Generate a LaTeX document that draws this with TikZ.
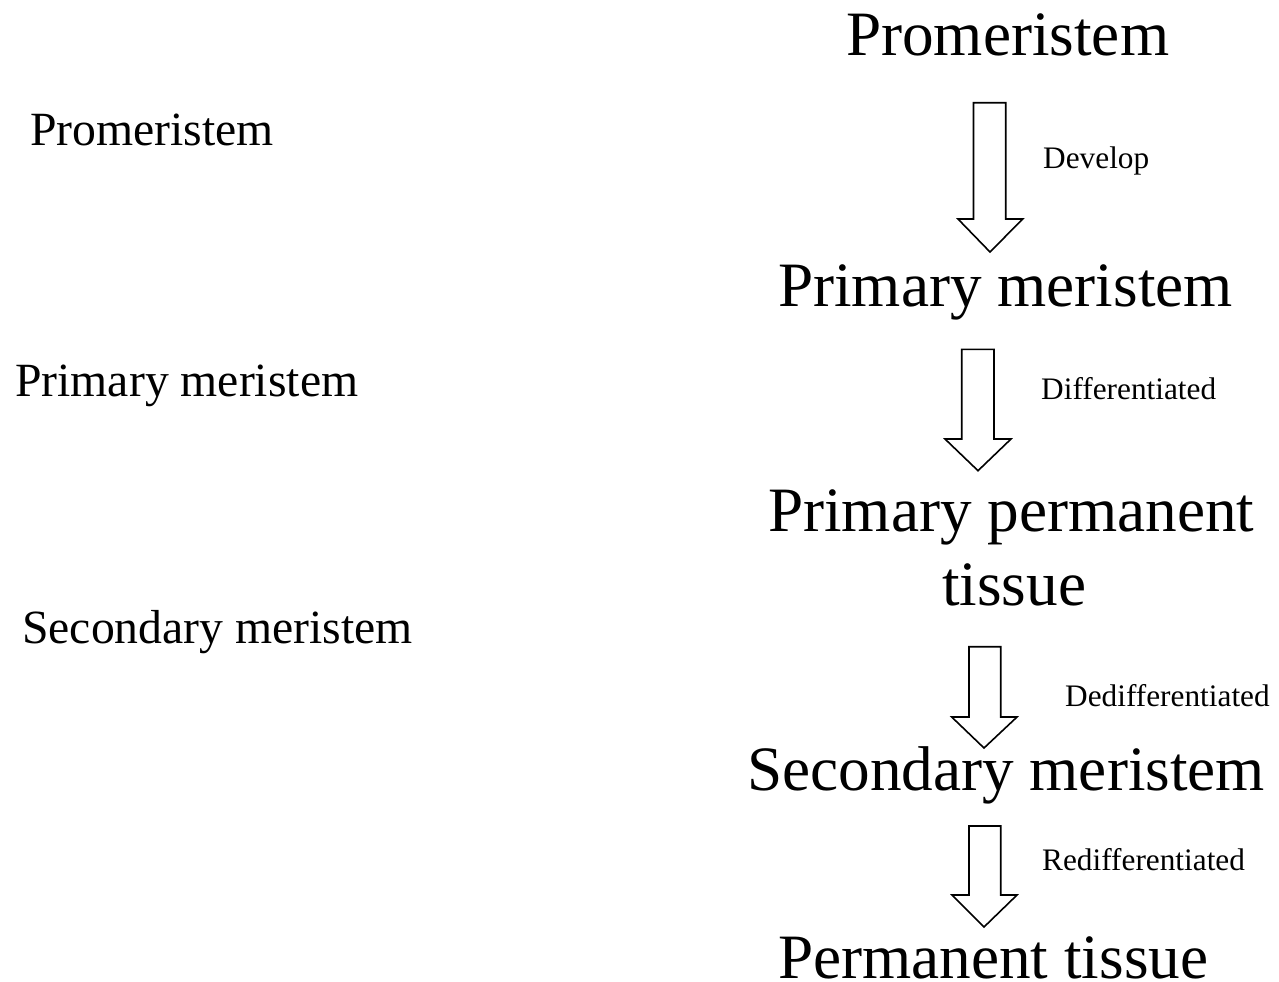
\documentclass[tikz,border=0pt]{standalone}
\usepackage{fontspec}
\setmainfont{Liberation Serif}
\begin{document}
\begin{tikzpicture}[x=1bp,y=-1bp,
  big/.style={anchor=base west,inner sep=0pt,font=\fontsize{63.2bp}{70bp}\selectfont},
  side/.style={anchor=base west,inner sep=0pt,font=\fontsize{47.7bp}{52bp}\selectfont},
  lab/.style={anchor=base west,inner sep=0pt,font=\fontsize{31.3bp}{35bp}\selectfont},
  blockarrow/.style={draw=black,line width=1.6bp,fill=white,line join=miter}]
\useasboundingbox (0,0) rectangle (1279,982);
% left column
\node[side] (lp) at (30,145) {Promeristem};
\node[side] (lpm) at (15,396.7) {Primary meristem};
\node[side] (lsm) at (22,643) {Secondary meristem};
% right column
\node[big] (p) at (846,55) {Promeristem};
\node[big] (pm) at (778,306.7) {Primary meristem};
\node[big] (ppt1) at (768,531.7) {Primary permanent};
\node[big] (ppt2) at (942,605) {tissue};
\node[big] (sm) at (747,790) {Secondary meristem};
\node[big] (pt) at (778,978) {Permanent tissue};
% labels
\node[lab] (l1) at (1043,168) {Develop};
\node[lab] (l2) at (1041,399) {Differentiated};
\node[lab] (l3) at (1065,706) {Dedifferentiated};
\node[lab] (l4) at (1042,870) {Redifferentiated};
% block arrows
\draw[blockarrow] (973.5,102.7) -- (1005.7,102.7) -- (1005.7,219) -- (1022.7,219) -- (990,252) -- (958,219) -- (973.5,219) -- cycle;
\draw[blockarrow] (961.7,349.3) -- (994,349.3) -- (994,439) -- (1011,439) -- (978,470.7) -- (945,439) -- (961.7,439) -- cycle;
\draw[blockarrow] (969,646.7) -- (1000.7,646.7) -- (1000.7,717) -- (1017,717) -- (984,748) -- (951.7,717) -- (969,717) -- cycle;
\draw[blockarrow] (969,826) -- (1000.7,826) -- (1000.7,895) -- (1017,895) -- (984,927) -- (952,895) -- (969,895) -- cycle;
\end{tikzpicture}
\end{document}
